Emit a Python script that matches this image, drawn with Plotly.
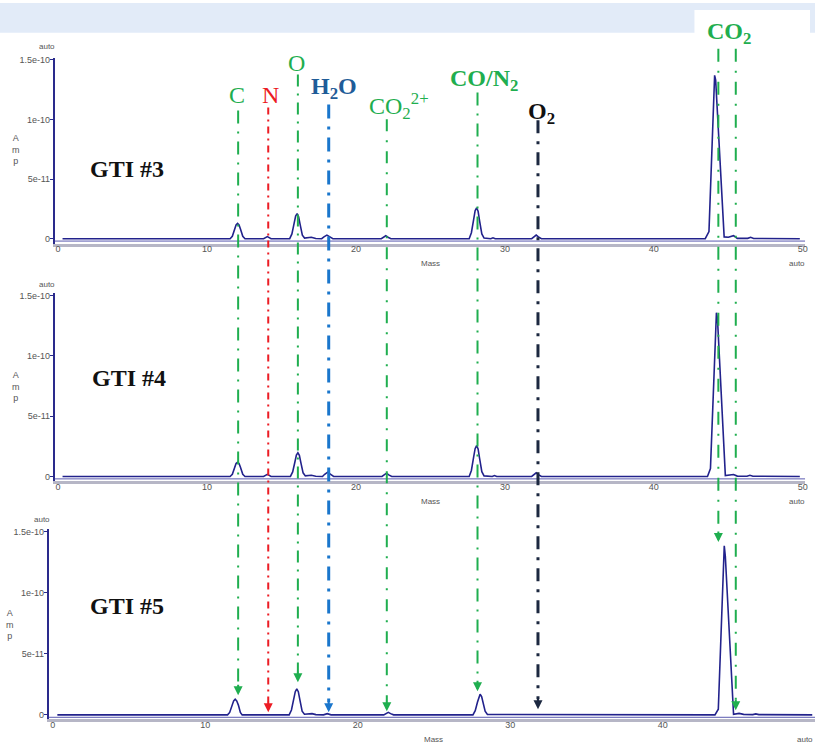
import plotly.graph_objects as go

W, H = 818, 744

# ---------------- data (amplitude in units of 1e-11) ----------------
mass_p1 = [0.3, 11.55, 11.7, 11.85, 11.95, 12.05, 12.15, 12.25, 12.4, 12.55,
           13.8, 14.05, 14.3,
           15.55, 15.7, 15.85, 15.95, 16.05, 16.15, 16.25, 16.4, 16.55, 16.8, 17.0, 17.3,
           17.7, 17.85, 18.05, 18.25, 18.45,
           21.7, 21.85, 22.0, 22.15, 22.35,
           27.6, 27.75, 27.9, 28.0, 28.1, 28.2, 28.3, 28.45, 28.6,
           29.05, 29.2, 29.35,
           31.8, 31.95, 32.1, 32.25, 32.45,
           43.45, 43.7, 44.08, 44.15, 44.72, 45.0, 45.35, 45.6, 46.3, 46.5, 46.7, 49.8]
amp_p1 = [0, 0, 0.2, 0.8, 1.15, 1.28, 1.15, 0.8, 0.2, 0,
          0, 0.17, 0,
          0, 0.4, 1.3, 1.9, 2.1, 1.85, 1.2, 0.3, 0.05, 0.1, 0.12, 0.02,
          0, 0.15, 0.3, 0.15, 0,
          0, 0.12, 0.25, 0.12, 0,
          0, 0.5, 1.6, 2.35, 2.59, 2.3, 1.5, 0.4, 0.05,
          0, 0.08, 0,
          0, 0.15, 0.3, 0.15, 0,
          0, 0.6, 13.71, 13.3, 0.15, 0.12, 0.25, 0.03, 0.03, 0.12, 0.02, 0]

mass_p2 = [0.3, 11.55, 11.7, 11.85, 11.95, 12.05, 12.15, 12.25, 12.4, 12.55,
           13.8, 14.05, 14.3,
           15.6, 15.75, 15.9, 16.0, 16.1, 16.2, 16.3, 16.45, 16.6, 16.85, 17.0, 17.3,
           17.75, 17.9, 18.1, 18.3, 18.5,
           21.75, 21.9, 22.05, 22.2, 22.4,
           27.6, 27.75, 27.9, 28.0, 28.1, 28.2, 28.3, 28.45, 28.6,
           29.15, 29.3, 29.45,
           31.8, 31.95, 32.1, 32.25, 32.45,
           43.6, 43.8, 44.2, 44.27, 44.8, 45.1, 45.35, 45.6, 46.25, 46.45, 46.65, 49.8]
amp_p2 = [0, 0, 0.18, 0.75, 1.07, 1.18, 1.07, 0.75, 0.18, 0,
          0, 0.17, 0,
          0, 0.38, 1.2, 1.78, 1.96, 1.75, 1.15, 0.3, 0.05, 0.08, 0.1, 0.02,
          0, 0.18, 0.36, 0.18, 0,
          0, 0.13, 0.27, 0.13, 0,
          0, 0.5, 1.6, 2.3, 2.56, 2.28, 1.5, 0.4, 0.05,
          0, 0.08, 0,
          0, 0.15, 0.3, 0.15, 0,
          0, 0.66, 13.57, 13.1, 0.08, 0.1, 0.16, 0.03, 0.02, 0.1, 0.02, 0]

mass_p3 = [0.3, 11.46, 11.6, 11.75, 11.86, 11.96, 12.06, 12.17, 12.3, 12.42,
           15.5, 15.65, 15.8, 15.9, 16.0, 16.1, 16.2, 16.35, 16.5, 16.8, 17.0, 17.25,
           17.75, 18.0, 18.25,
           21.7, 21.85, 22.0, 22.15, 22.35,
           27.55, 27.7, 27.85, 27.95, 28.02, 28.12, 28.22, 28.35, 28.5,
           43.42, 43.64, 44.03, 44.1, 44.64, 45.0, 45.3, 45.9, 46.1, 46.3, 49.8]
amp_p3 = [0, 0, 0.2, 0.8, 1.15, 1.28, 1.15, 0.8, 0.2, 0,
          0, 0.4, 1.3, 1.9, 2.12, 1.9, 1.25, 0.3, 0.05, 0.08, 0.1, 0.02,
          0, 0.1, 0,
          0, 0.1, 0.2, 0.1, 0,
          0, 0.35, 1.05, 1.5, 1.69, 1.5, 1.0, 0.3, 0.03,
          0, 0.46, 13.86, 13.0, 0.05, 0.12, 0.04, 0.02, 0.08, 0.02, 0]

panel_names = ["GTI #3", "GTI #4", "GTI #5"]
y_tickvals = [0, 5, 10, 15]
y_ticktext = ["0", "5e-11", "1e-10", "1.5e-10"]
x_tickvals = [0, 10, 20, 30, 40, 50]

# species marker lines (mass on the top panel's scale)
line_labels = ["C", "N", "O", "<b>H<sub>2</sub>O</b>", "CO<sub>2</sub><sup>2+</sup>",
               "<b>CO/N<sub>2</sub></b>", "<b>O<sub>2</sub></b>", "<b>CO<sub>2</sub></b>", ""]
line_mass = [12.09, 14.11, 16.1, 18.17, 22.07, 28.16, 32.22, 44.33, 45.5]

# ---------------- styles / layout positions ----------------
GREEN = "#1fae4f"
RED = "#ec1c24"
BLUE_T = "#1f5c98"
BLUE_L = "#1a76cc"
DARK = "#1c2840"
line_colors = [GREEN, RED, GREEN, BLUE_L, GREEN, GREEN, DARK, GREEN, GREEN]
text_colors = [GREEN, RED, GREEN, BLUE_T, GREEN, GREEN, "#111111", GREEN, GREEN]
line_widths = [2, 2, 2, 3, 2, 2, 3, 2, 2]
line_dash = ["13px,8px,2px,8px", "7px,5px,2px,5px", "12px,7px,2px,7px",
             "14px,8px,3px,8px", "12px,9px,2px,9px", "13px,8px,2px,8px",
             "13px,8px,3px,8px", "13px,9px,2px,9px", "13px,9px,2px,9px"]
label_xy = [(238, 92), (271, 92), (298, 60), (335, 85), (400, 104),
            (486, 77), (543, 111), (732, 30), (0, 0)]
line_top = [108, 105, 72, 102, 117, 90, 118, 46, 46]
arrow_tip = [696, 713, 683, 713, 712, 692, 710, 542, 711]

TRACE = "#22228c"
AXIS_BLUE = "#2a2a8c"

# panel geometry in pixels
panels = [
    dict(x=(55, 808), y=(55, 242), xr=[-0.22, 50.15], yr=[-0.42, 15.19], tv=x_tickvals,
         auto_tl=(47, 44), amp=(16, 147), mass=(432, 262), auto_br=(790, 262), gti=(127, 167)),
    dict(x=(55, 808), y=(292, 481), xr=[-0.22, 50.15], yr=[-0.41, 15.17], tv=x_tickvals,
         auto_tl=(47, 283), amp=(16, 386), mass=(432, 501), auto_br=(790, 501), gti=(129, 377)),
    dict(x=(49, 818), y=(529, 720), xr=[-0.26, 49.98], yr=[-0.35, 15.22], tv=x_tickvals[:-1],
         auto_tl=(42, 519), amp=(10, 625), mass=(435, 740), auto_br=(798, 740), gti=(127, 606)),
]
data = [(mass_p1, amp_p1), (mass_p2, amp_p2), (mass_p3, amp_p3)]


def fx(p):
    return p / W


def fy(p):
    return 1 - p / H


fig = go.Figure()
annotations = []
shapes = []
SANS = "Liberation Sans, Arial, sans-serif"
SERIF = "Liberation Serif, Times New Roman, serif"


def note(xp, yp, text, size, color, family=SANS, xanchor="center"):
    return dict(x=fx(xp), y=fy(yp), xref="paper", yref="paper", text=text, showarrow=False,
                xanchor=xanchor, yanchor="middle", font=dict(family=family, size=size, color=color))


# background decoration
shapes.append(dict(type="rect", xref="paper", yref="paper", x0=0, x1=1, y0=fy(30), y1=1,
                   fillcolor="#e2ebf8", line_width=0, layer="below"))
shapes.append(dict(type="rect", xref="paper", yref="paper", x0=fx(697), x1=fx(813), y0=fy(60), y1=fy(7),
                   fillcolor="white", line_width=0, layer="below"))

for i, (p, (m, a)) in enumerate(zip(panels, data)):
    n = "" if i == 0 else str(i + 1)
    fig.add_trace(go.Scatter(x=m, y=a, mode="lines", line=dict(color=TRACE, width=1.6),
                             xaxis="x" + n, yaxis="y" + n, showlegend=False, hoverinfo="skip"))
    fig.update_layout(**{
        "xaxis" + n: dict(domain=[fx(p["x"][0]), fx(p["x"][1])], range=p["xr"], anchor="y" + n,
                          showline=True, linecolor="#b6b6c6", linewidth=3, ticks="",
                          ticklabelstandoff=-5,
                          tickvals=p["tv"], tickfont=dict(family=SANS, size=9, color="#555"),
                          showgrid=False, zeroline=False, fixedrange=True),
        "yaxis" + n: dict(domain=[fy(p["y"][1]), fy(p["y"][0])], range=p["yr"], anchor="x" + n,
                          showline=True, linecolor=AXIS_BLUE, linewidth=2, ticks="outside",
                          ticklen=3, tickcolor=AXIS_BLUE, tickvals=y_tickvals, ticktext=y_ticktext,
                          ticklabelstandoff=-2,
                          tickfont=dict(family=SANS, size=9, color="#555"),
                          showgrid=False, zeroline=False, fixedrange=True),
    })
    # thin blue line just under baseline
    shapes.append(dict(type="line", xref="x%s domain" % n, yref="y" + n, x0=0, x1=1, y0=-0.2, y1=-0.2,
                       line=dict(color="#5a5ab0", width=1)))
    annotations += [
        note(p["auto_tl"][0], p["auto_tl"][1], "auto", 8, "#555"),
        note(p["amp"][0], p["amp"][1], "A<br>m<br>p", 9, "#555"),
        note(p["mass"][0], p["mass"][1], "Mass", 8, "#555"),
        note(p["auto_br"][0], p["auto_br"][1], "auto", 8, "#555", xanchor="left"),
        note(p["gti"][0], p["gti"][1], "<b>%s</b>" % panel_names[i], 24, "#111", family=SERIF),
    ]

# species lines, labels, arrowheads
for k in range(len(line_mass)):
    shapes.append(dict(type="line", xref="x", yref="paper", x0=line_mass[k], x1=line_mass[k],
                       y0=fy(line_top[k]), y1=fy(arrow_tip[k] - 10),
                       line=dict(color=line_colors[k], width=line_widths[k], dash=line_dash[k])))
    annotations.append(dict(x=line_mass[k], xref="x", y=fy(arrow_tip[k]), yref="paper", text="",
                            showarrow=True, ax=0, ay=-12, arrowhead=2, arrowsize=0.9,
                            arrowwidth=2, arrowcolor=line_colors[k]))
    if line_labels[k]:
        annotations.append(note(label_xy[k][0], label_xy[k][1], line_labels[k], 24,
                                text_colors[k], family=SERIF))

fig.update_layout(width=W, height=H, margin=dict(l=0, r=0, t=0, b=0),
                  paper_bgcolor="white", plot_bgcolor="rgba(0,0,0,0)",
                  shapes=shapes, annotations=annotations, showlegend=False)

fig.write_html("out.html", config={"displayModeBar": False},
               post_script="document.body.style.margin='0';document.body.style.overflow='hidden';")
